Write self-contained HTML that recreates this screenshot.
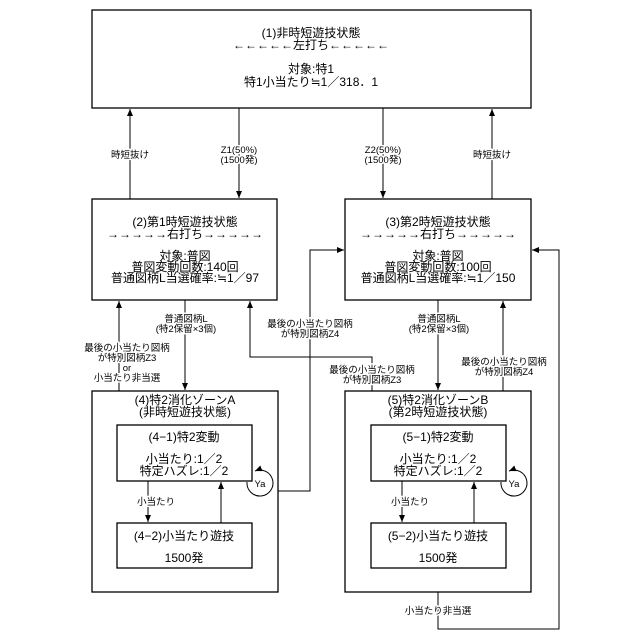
<!DOCTYPE html>
<html><head><meta charset="utf-8"><style>
body{margin:0;background:#fff}
svg{display:block}
text{font-family:"Liberation Sans","Noto Sans CJK JP",sans-serif;font-size:12px;fill:#000;text-anchor:middle}
.s{font-size:9.5px;stroke:#fff;stroke-width:3px;paint-order:stroke;stroke-linejoin:round}
</style></head><body>
<svg width="640" height="640" viewBox="0 0 640 640">
<defs><marker id="a" markerWidth="8" markerHeight="8" refX="7" refY="4" orient="auto" markerUnits="userSpaceOnUse"><path d="M0,1 L7,4 L0,7 Z" fill="#000"/></marker></defs>
<g fill="none" stroke="#000" stroke-width="1.3">
<rect x="92" y="10" width="439" height="98"/>
<rect x="92" y="199" width="185" height="101"/>
<rect x="345" y="199" width="186" height="101"/>
<rect x="92" y="391" width="186" height="201"/>
<rect x="345" y="391" width="186" height="201"/>
<rect x="117" y="425" width="135" height="56"/>
<rect x="117" y="523" width="135" height="45"/>
<rect x="371" y="425" width="135" height="56"/>
<rect x="371" y="523" width="135" height="45"/>
</g>
<g fill="none" stroke="#000" stroke-width="1" marker-end="url(#a)">
<path d="M130 199 V109"/>
<path d="M239 108 V198"/>
<path d="M383 108 V198"/>
<path d="M492 199 V109"/>
<path d="M185 300 V390"/>
<path d="M119 391 V301"/>
<path d="M438 300 V390"/>
<path d="M503 391 V301"/>
<path d="M278 491 H310 V250 H344"/>
<path d="M438 592 V629 H559 V250 H532"/>
<path d="M372 391 V357 H250 V301"/>
<path d="M148 481 V522"/>
<path d="M221 523 V482"/>
<path d="M402 481 V522"/>
<path d="M474 523 V482"/>
<path d="M247 482 A13 13 0 1 0 255 471"/>
<path d="M501 482 A13 13 0 1 0 509 471"/>
</g>
<text x="311" y="37">(1)非時短遊技状態</text>
<text x="311" y="49">←←←←←左打ち←←←←←</text>
<text x="311" y="73">対象:特1</text>
<text x="311" y="86">特1小当たり≒1／318．1</text>
<text class="s" x="130" y="158">時短抜け</text>
<text class="s" x="239" y="153">Z1(50%)</text>
<text class="s" x="239" y="163">(1500発)</text>
<text class="s" x="383" y="153">Z2(50%)</text>
<text class="s" x="383" y="163">(1500発)</text>
<text class="s" x="492" y="158">時短抜け</text>
<text x="185" y="226">(2)第1時短遊技状態</text>
<text x="185" y="238">→→→→→右打ち→→→→→</text>
<text x="185" y="260">対象:普図</text>
<text x="185" y="271">普図変動回数:140回</text>
<text x="185" y="282">普通図柄L当選確率:≒1／97</text>
<text x="438" y="226">(3)第2時短遊技状態</text>
<text x="438" y="238">→→→→→右打ち→→→→→</text>
<text x="438" y="260">対象:普図</text>
<text x="438" y="271">普図変動回数:100回</text>
<text x="438" y="282">普通図柄L当選確率:≒1／150</text>
<text class="s" x="186" y="322">普通図柄L</text>
<text class="s" x="186" y="332">(特2保留×3個)</text>
<text class="s" x="439" y="322">普通図柄L</text>
<text class="s" x="439" y="332">(特2保留×3個)</text>
<text class="s" x="127" y="351">最後の小当たり図柄</text>
<text class="s" x="127" y="361">が特別図柄Z3</text>
<text class="s" x="127" y="371">or</text>
<text class="s" x="127" y="381">小当たり非当選</text>
<text class="s" x="310" y="327">最後の小当たり図柄</text>
<text class="s" x="310" y="337">が特別図柄Z4</text>
<text class="s" x="372" y="373">最後の小当たり図柄</text>
<text class="s" x="372" y="383">が特別図柄Z3</text>
<text class="s" x="504" y="365">最後の小当たり図柄</text>
<text class="s" x="504" y="375">が特別図柄Z4</text>
<text x="185" y="404">(4)特2消化ゾーンA</text>
<text x="185" y="416">(非時短遊技状態)</text>
<text x="438" y="404">(5)特2消化ゾーンB</text>
<text x="438" y="416">(第2時短遊技状態)</text>
<text x="184" y="441">(4−1)特2変動</text>
<text x="184" y="463">小当たり:1／2</text>
<text x="184" y="475">特定ハズレ:1／2</text>
<text x="438" y="441">(5−1)特2変動</text>
<text x="438" y="463">小当たり:1／2</text>
<text x="438" y="475">特定ハズレ:1／2</text>
<text x="184" y="540">(4−2)小当たり遊技</text>
<text x="184" y="562">1500発</text>
<text x="438" y="540">(5−2)小当たり遊技</text>
<text x="438" y="562">1500発</text>
<text class="s" x="156" y="505">小当たり</text>
<text class="s" x="410" y="505">小当たり</text>
<text class="s" x="260" y="487">Ya</text>
<text class="s" x="514" y="487">Ya</text>
<text class="s" x="438" y="614">小当たり非当選</text>
</svg>
</body></html>
